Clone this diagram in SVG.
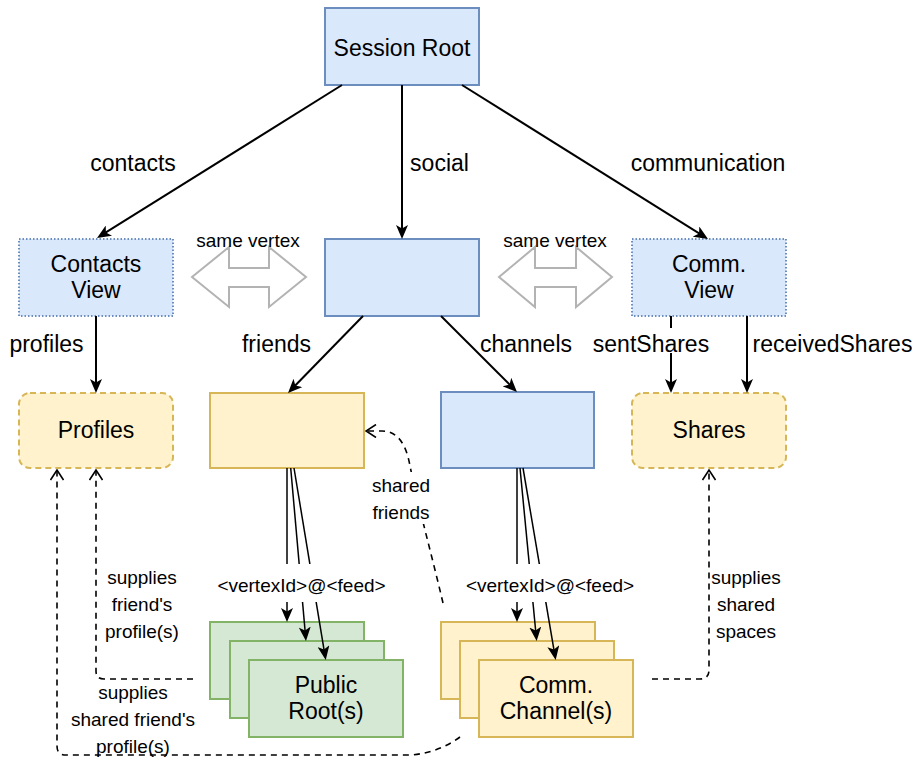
<svg xmlns="http://www.w3.org/2000/svg" width="912" height="760" viewBox="0 0 912 760">
  <style>
    text { font-family: "Liberation Sans", Arial, Helvetica, sans-serif; fill: #000; text-anchor: middle; }
    .lg { font-size: 23px; }
    .sm { font-size: 19px; }
    .blue { fill: #dae8fc; stroke: #6c8ebf; stroke-width: 2; }
    .blue-dot { fill: #dae8fc; stroke: #6c8ebf; stroke-width: 2; stroke-dasharray: 1.5 2; }
    .yellow { fill: #fff2cc; stroke: #d6b656; stroke-width: 2; }
    .yellow-dash { fill: #fff2cc; stroke: #d6b656; stroke-width: 2; stroke-dasharray: 6 4; }
    .green { fill: #d5e8d4; stroke: #82b366; stroke-width: 2; }
    .edge { fill: none; stroke: #000; stroke-width: 2; marker-end: url(#classic); }
    .edge-thin { fill: none; stroke: #000; stroke-width: 1.5; marker-end: url(#classic); }
    .dash { fill: none; stroke: #000; stroke-width: 1.6; stroke-dasharray: 6 5; marker-end: url(#open); }
    .same { fill: #fff; stroke: #b3b3b3; stroke-width: 2; }
    .bg { fill: #fff; }
  </style>
  <defs>
    <marker id="classic" viewBox="0 0 14 12" refX="4" refY="6" markerWidth="14" markerHeight="12" markerUnits="userSpaceOnUse" orient="auto">
      <path d="M0,0 L14,6 L0,12 L3.5,6 Z" fill="#000"/>
    </marker>
    <marker id="open" viewBox="0 0 12 14" refX="11" refY="7" markerWidth="12" markerHeight="14" markerUnits="userSpaceOnUse" orient="auto">
      <path d="M1,0.5 L11,7 L1,13.5" fill="none" stroke="#000" stroke-width="1.6"/>
    </marker>
  </defs>

  <!-- "same vertex" double arrows -->
  <g id="same-vertex-left">
    <polygon class="same" points="192,277 229,247 229,268 269,268 269,247 306,277 269,307 269,287 229,287 229,307"/>
    <text class="sm" x="248" y="247">same vertex</text>
  </g>
  <g id="same-vertex-right">
    <polygon class="same" points="499,277 535,247 535,268 576,268 576,247 612,277 576,307 576,287 535,287 535,307"/>
    <text class="sm" x="555" y="247">same vertex</text>
  </g>

  <!-- nodes -->
  <g id="session-root">
    <rect class="blue" x="325" y="8" width="154" height="77"/>
    <text class="lg" x="402" y="56">Session Root</text>
  </g>
  <g id="contacts-view">
    <rect class="blue-dot" x="19" y="239" width="154" height="77"/>
    <text class="lg" x="96" y="272">Contacts</text>
    <text class="lg" x="96" y="298">View</text>
  </g>
  <g id="social">
    <rect class="blue" x="325" y="239" width="154" height="77"/>
  </g>
  <g id="comm-view">
    <rect class="blue-dot" x="632" y="239" width="154" height="77"/>
    <text class="lg" x="709" y="272">Comm.</text>
    <text class="lg" x="709" y="298">View</text>
  </g>
  <g id="profiles">
    <rect class="yellow-dash" x="19" y="393" width="154" height="75" rx="11"/>
    <text class="lg" x="96" y="438">Profiles</text>
  </g>
  <g id="friends">
    <rect class="yellow" x="210" y="393" width="154" height="75"/>
  </g>
  <g id="channels">
    <rect class="blue" x="441" y="392" width="153" height="76"/>
  </g>
  <g id="shares">
    <rect class="yellow-dash" x="632" y="393" width="154" height="75" rx="11"/>
    <text class="lg" x="709" y="438">Shares</text>
  </g>
  <g id="public-roots">
    <rect class="green" x="210" y="622" width="154" height="77"/>
    <rect class="green" x="230" y="641" width="154" height="77"/>
    <rect class="green" x="249" y="660" width="154" height="77"/>
    <text class="lg" x="326" y="693">Public</text>
    <text class="lg" x="326" y="719">Root(s)</text>
  </g>
  <g id="comm-channels">
    <rect class="yellow" x="441" y="622" width="154" height="77"/>
    <rect class="yellow" x="460" y="641" width="154" height="77"/>
    <rect class="yellow" x="479" y="660" width="154" height="77"/>
    <text class="lg" x="556" y="693">Comm.</text>
    <text class="lg" x="556" y="719">Channel(s)</text>
  </g>

  <!-- connectors, drawn over the stacked nodes -->
  <g id="connectors">
    <path class="edge" d="M342,85 L105.5,232.7"/>
    <path class="edge" d="M402,85 L402,229"/>
    <path class="edge" d="M462,85 L699.5,233.7"/>
    <path class="edge" d="M96,316 L96,383"/>
    <path class="edge" d="M363,316 L295,385.8"/>
    <path class="edge" d="M441,316 L509.9,384.9"/>
    <path class="edge" d="M671,316 L671,383"/>
    <path class="edge" d="M747,316 L747,383"/>

    <path class="edge-thin" d="M287,468 L287,612"/>
    <path class="edge-thin" d="M290.7,468 L305.1,631"/>
    <path class="edge-thin" d="M294,468 L324.1,650.1"/>
    <path class="edge-thin" d="M517,468 L517,612"/>
    <path class="edge-thin" d="M520,468 L535.7,631"/>
    <path class="edge-thin" d="M523,468 L554,650.1"/>

    <path class="dash" d="M193,679 L104,679 Q96,679 96,671 L96,470"/>
    <path class="dash" d="M460,737 Q440,752 412,755 L66,755 Q57,755 57,746 L57,470"/>
    <path class="dash" d="M443,603 C432,556 418,505 410,466 Q404,431 382,431 L366,431"/>
    <path class="dash" d="M652,679 L700,679 Q709,679 709,670 L709,470"/>

    <!-- edge labels -->
    <text class="lg" x="133" y="171">contacts</text>
    <text class="lg" x="439.5" y="171">social</text>
    <text class="lg" x="708" y="171">communication</text>
    <text class="lg" x="46.5" y="352">profiles</text>
    <text class="lg" x="276.5" y="352">friends</text>
    <text class="lg" x="526" y="352">channels</text>
    <rect class="bg" x="594" y="328" width="114" height="25"/>
    <text class="lg" x="651" y="352">sentShares</text>
    <text class="lg" x="832.5" y="352">receivedShares</text>

    <rect class="bg" x="217" y="564" width="170" height="38"/>
    <text class="sm" x="301.5" y="592">&lt;vertexId&gt;@&lt;feed&gt;</text>
    <rect class="bg" x="466" y="564" width="168" height="38"/>
    <text class="sm" x="550" y="592">&lt;vertexId&gt;@&lt;feed&gt;</text>

    <rect class="bg" x="371" y="472" width="60" height="52"/>
    <text class="sm" x="401" y="492">shared</text>
    <text class="sm" x="401" y="519">friends</text>

    <text class="sm" x="142" y="584">supplies</text>
    <text class="sm" x="142" y="611">friend's</text>
    <text class="sm" x="142" y="638">profile(s)</text>

    <text class="sm" x="133" y="699">supplies</text>
    <text class="sm" x="133" y="726">shared friend's</text>
    <text class="sm" x="133" y="753">profile(s)</text>

    <text class="sm" x="746" y="584">supplies</text>
    <text class="sm" x="746" y="611">shared</text>
    <text class="sm" x="746" y="638">spaces</text>
  </g>
</svg>
